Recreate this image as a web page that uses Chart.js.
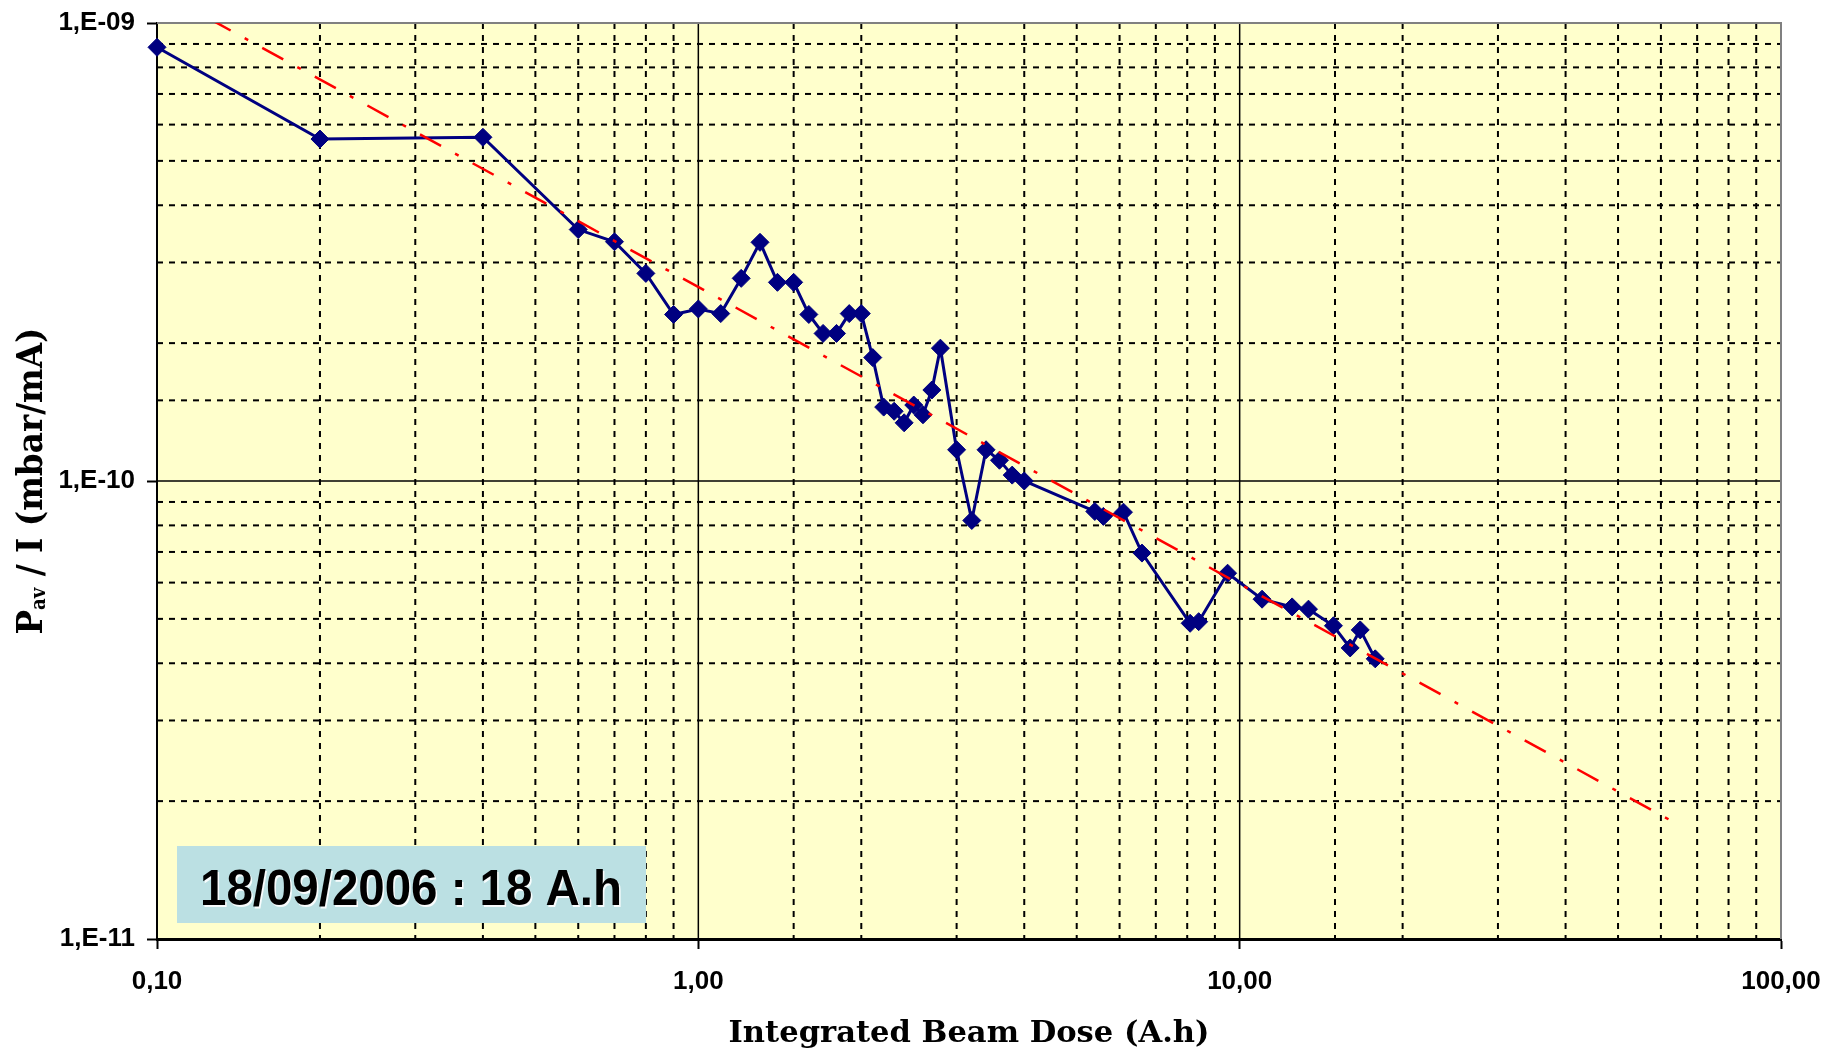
<!DOCTYPE html>
<html>
<head>
<meta charset="utf-8">
<title>Pav / I vs Integrated Beam Dose</title>
<script src="https://cdn.jsdelivr.net/npm/chart.js@4.4.1/dist/chart.umd.min.js"></script>
<style>
  html, body { margin: 0; padding: 0; background: #fff; }
  #wrap { width: 1822px; height: 1054px; }
</style>
</head>
<body>
<div id="wrap"><canvas id="chart" width="1822" height="1054"></canvas></div>
<script>
// integrated beam dose (A.h) and Pav/I (mbar/mA)
let doseAh = [0.1, 0.2, 0.4, 0.6, 0.7, 0.8, 0.9, 1.0, 1.1, 1.2, 1.3, 1.4, 1.5, 1.6, 1.7, 1.8, 1.9, 2.0,
    2.1, 2.2, 2.3, 2.4, 2.5, 2.6, 2.7, 2.8, 3.0, 3.2, 3.4, 3.6, 3.8, 4.0, 5.4, 5.6, 6.1, 6.6,
    8.1, 8.4, 9.5, 11.0, 12.5, 13.4, 14.9, 16.0, 16.7, 17.8];
let pressureRatio = [8.85e-10, 5.58e-10, 5.63e-10, 3.54e-10, 3.33e-10, 2.84e-10, 2.31e-10, 2.375e-10, 2.32e-10,
    2.77e-10, 3.32e-10, 2.715e-10, 2.715e-10, 2.31e-10, 2.10e-10, 2.10e-10, 2.32e-10, 2.32e-10,
    1.86e-10, 1.45e-10, 1.42e-10, 1.34e-10, 1.465e-10, 1.395e-10, 1.58e-10, 1.95e-10, 1.17e-10, 8.2e-11,
    1.17e-10, 1.11e-10, 1.03e-10, 1.0e-10, 8.58e-11, 8.37e-11, 8.55e-11, 6.96e-11,
    4.89e-11, 4.93e-11, 6.29e-11, 5.52e-11, 5.31e-11, 5.25e-11, 4.83e-11, 4.32e-11, 4.73e-11, 4.09e-11];

// power-law trend line, end points
let trendDose = [0.1, 65];
let trendRatio = [1.18e-9, 1.77e-11];

let xTickValues = [0.1, 1, 10, 100];
let xTickLabels = ['0,10', '1,00', '10,00', '100,00'];
let yTickValues = [1e-11, 1e-10, 1e-9];
let yTickLabels = ['1,E-11', '1,E-10', '1,E-09'];

let boxText = '18/09/2006 : 18 A.h';
let xTitle = 'Integrated Beam Dose (A.h)';

function labelFor(values, labels, v) {
    for (let i = 0; i < values.length; i++) {
        if (Math.abs(Math.log10(v) - Math.log10(values[i])) < 1e-6) {
            return labels[i];
        }
    }
    return '';
}

function isDecade(v) {
    let l = Math.log10(v);
    return Math.abs(l - Math.round(l)) < 1e-6;
}

function toPoints(xs, ys) {
    return xs.map((x, i) => ({x: x, y: ys[i]}));
}

function drawGrid(ctx, scale, area, vertical) {
    scale.ticks.forEach(function (t) {
        let p = scale.getPixelForValue(t.value);
        if (vertical && (Math.abs(p - area.left) < 1 || Math.abs(p - area.right) < 1)) return;
        if (!vertical && (Math.abs(p - area.top) < 1 || Math.abs(p - area.bottom) < 1)) return;
        let major = isDecade(t.value);
        ctx.setLineDash(major ? [] : [6, 6]);
        ctx.lineWidth = major ? 1.5 : 2;
        ctx.strokeStyle = '#000';
        ctx.beginPath();
        if (vertical) {
            ctx.moveTo(p, area.top);
            ctx.lineTo(p, area.bottom);
        } else {
            ctx.moveTo(area.left, p);
            ctx.lineTo(area.right, p);
        }
        ctx.stroke();
    });
}

let framePlugin = {
    id: 'frame',
    beforeDraw(chart) {
        let ctx = chart.ctx, a = chart.chartArea;
        ctx.save();
        ctx.fillStyle = '#FFFFCC';
        ctx.fillRect(a.left, a.top, a.right - a.left, a.bottom - a.top);
        drawGrid(ctx, chart.scales.x, a, true);
        drawGrid(ctx, chart.scales.y, a, false);
        ctx.restore();
    },
    beforeDatasetsDraw(chart) {
        let ctx = chart.ctx, a = chart.chartArea;
        ctx.save();
        // grey top / right border
        ctx.setLineDash([]);
        ctx.strokeStyle = '#808080';
        ctx.lineWidth = 2;
        ctx.beginPath();
        ctx.moveTo(a.left, a.top);
        ctx.lineTo(a.right, a.top);
        ctx.lineTo(a.right, a.bottom);
        ctx.stroke();

        // date label box
        ctx.fillStyle = '#BBE0E3';
        ctx.fillRect(a.left + 20, a.bottom - 93, 469, 77);
        ctx.font = 'bold 50px "Liberation Sans", Arial, sans-serif';
        ctx.textBaseline = 'alphabetic';
        ctx.textAlign = 'left';
        let w = ctx.measureText(boxText).width;
        ctx.translate(a.left + 43, a.bottom - 34);
        ctx.scale(422 / w, 1);
        ctx.shadowColor = 'rgba(255,255,255,0.9)';
        ctx.shadowOffsetX = 1.5;
        ctx.shadowOffsetY = 1.5;
        ctx.fillStyle = '#000';
        ctx.fillText(boxText, 0, 0);
        ctx.restore();
    },
    afterDraw(chart) {
        let ctx = chart.ctx, a = chart.chartArea;
        ctx.save();
        ctx.fillStyle = '#000';
        ctx.textBaseline = 'alphabetic';

        // x axis title
        ctx.font = 'bold 29px "DejaVu Serif", serif';
        let w = ctx.measureText(xTitle).width;
        ctx.save();
        ctx.translate((a.left + a.right) / 2, a.bottom + 103);
        ctx.scale(481 / w, 1);
        ctx.textAlign = 'center';
        ctx.fillText(xTitle, 0, 0);
        ctx.restore();

        // y axis title with subscript
        let big = 'bold 36px "DejaVu Serif", serif';
        let small = 'bold 20px "DejaVu Serif", serif';
        let parts = [['P', big, 0], ['av', small, 3], [' / I (mbar/mA)', big, 0]];
        let total = 0;
        parts.forEach(function (p) {
            ctx.font = p[1];
            total += ctx.measureText(p[0]).width;
        });
        ctx.save();
        ctx.translate(a.left - 115, (a.top + a.bottom) / 2);
        ctx.rotate(-Math.PI / 2);
        ctx.scale(307 / total, 1);
        ctx.textAlign = 'left';
        let cx = -total / 2;
        parts.forEach(function (p) {
            ctx.font = p[1];
            ctx.fillText(p[0], cx, p[2]);
            cx += ctx.measureText(p[0]).width;
        });
        ctx.restore();
        ctx.restore();
    }
};

let tickFont = {family: '"Liberation Sans", Arial, sans-serif', weight: 'bold', size: 26};

new Chart(document.getElementById('chart'), {
    type: 'scatter',
    data: {
        datasets: [{
            label: 'trend',
            data: toPoints(trendDose, trendRatio),
            showLine: true,
            borderColor: '#FF0000',
            borderWidth: 2.5,
            borderDash: [24, 16, 4, 16],
            pointRadius: 0,
            fill: false,
            tension: 0
        }, {
            label: 'Pav / I',
            data: toPoints(doseAh, pressureRatio),
            showLine: true,
            clip: false,
            borderColor: '#000080',
            borderWidth: 3,
            pointStyle: 'rectRot',
            pointRadius: 9,
            pointBackgroundColor: '#000080',
            pointBorderColor: '#000080',
            pointBorderWidth: 1,
            fill: false,
            tension: 0
        }]
    },
    options: {
        responsive: false,
        animation: false,
        devicePixelRatio: 1,
        layout: {padding: {top: 23, right: 41, left: 0, bottom: 0}},
        plugins: {
            legend: {display: false},
            tooltip: {enabled: false}
        },
        scales: {
            x: {
                type: 'logarithmic',
                position: 'bottom',
                min: 0.1,
                max: 100,
                afterFit: function (s) {
                    s.height = 115;
                    s.paddingLeft = 0;
                    s.paddingRight = 0;
                },
                ticks: {
                    autoSkip: false,
                    maxRotation: 0,
                    padding: 17,
                    color: '#000',
                    font: tickFont,
                    callback: v => labelFor(xTickValues, xTickLabels, v)
                },
                grid: {
                    drawOnChartArea: false,
                    drawTicks: true,
                    tickLength: 10,
                    tickWidth: 2,
                    tickColor: c => (c.tick && isDecade(c.tick.value)) ? '#000' : 'rgba(0,0,0,0)'
                },
                border: {color: '#000', width: 3}
            },
            y: {
                type: 'logarithmic',
                min: 1e-11,
                max: 1e-9,
                afterFit: function (s) {
                    s.width = 157;
                    s.paddingTop = 0;
                    s.paddingBottom = 0;
                },
                ticks: {
                    autoSkip: false,
                    padding: 12,
                    color: '#000',
                    font: tickFont,
                    callback: v => labelFor(yTickValues, yTickLabels, v)
                },
                grid: {
                    drawOnChartArea: false,
                    drawTicks: true,
                    tickLength: 10,
                    tickWidth: 2,
                    tickColor: c => (c.tick && isDecade(c.tick.value)) ? '#000' : 'rgba(0,0,0,0)'
                },
                border: {color: '#000', width: 2}
            }
        }
    },
    plugins: [framePlugin]
});
</script>
</body>
</html>
